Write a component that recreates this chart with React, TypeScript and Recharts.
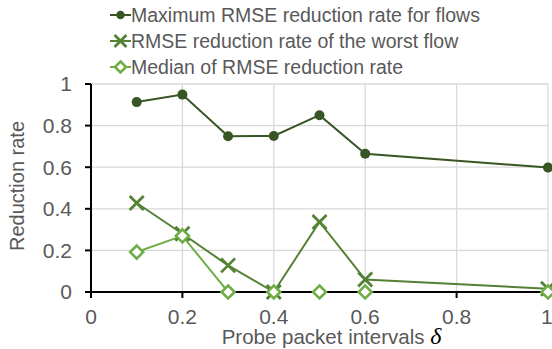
import React from 'react';
import { LineChart, Line, XAxis, YAxis, CartesianGrid, Legend, Label } from 'recharts';

const intervals = [0.1, 0.2, 0.3, 0.4, 0.5, 0.6, 1.0];
const maxReduction = [0.913, 0.949, 0.749, 0.75, 0.85, 0.665, 0.598];
const worstReduction = [0.428, 0.28, 0.128, 0, 0.337, 0.06, 0.016];
const medianReduction = [0.192, 0.27, 0, 0, 0, 0, 0];

const xTicks = [0, 0.2, 0.4, 0.6, 0.8, 1];
const yTicks = [0, 0.2, 0.4, 0.6, 0.8, 1];

const seriesNames = [
  'Maximum RMSE reduction rate for flows',
  'RMSE reduction rate of the worst flow',
  'Median of RMSE reduction rate',
];

const COLORS = ['#375623', '#548235', '#70ad47'];
const FONT = '"Liberation Sans", Arial, Helvetica, sans-serif';
const TEXT = '#595959';

const data = intervals.map((x, i) => ({
  x,
  max: maxReduction[i],
  worst: worstReduction[i],
  median: medianReduction[i],
}));

type Shape = 'circle' | 'cross' | 'diamond';

function Marker({ cx, cy, shape, color, size = 1 }: { cx: number; cy: number; shape: Shape; color: string; size?: number }) {
  if (shape === 'circle') {
    return <circle cx={cx} cy={cy} r={5 * size} fill={color} stroke="none" />;
  }
  if (shape === 'cross') {
    const h = 7 * size;
    return (
      <g stroke={color} strokeWidth={2.8}>
        <line x1={cx - h} y1={cy - h} x2={cx + h} y2={cy + h} />
        <line x1={cx - h} y1={cy + h} x2={cx + h} y2={cy - h} />
      </g>
    );
  }
  const h = 6.5 * size;
  return (
    <polygon
      points={`${cx},${cy - h} ${cx + h},${cy} ${cx},${cy + h} ${cx - h},${cy}`}
      fill="#fff"
      stroke={color}
      strokeWidth={2.6}
    />
  );
}

const shapes: Shape[] = ['circle', 'cross', 'diamond'];

function dotFor(shape: Shape, color: string) {
  return (props: any) => {
    const { cx, cy, index } = props;
    if (cx == null || cy == null) return <g key={index} />;
    return (
      <g key={index}>
        <Marker cx={cx} cy={cy} shape={shape} color={color} />
      </g>
    );
  };
}

function LegendBox() {
  return (
    <div style={{ fontFamily: FONT, fontSize: 19.5, color: TEXT }}>
      {seriesNames.map((name, i) => (
        <div key={name} style={{ display: 'flex', alignItems: 'center', height: 26, whiteSpace: 'nowrap' }}>
          <svg width={21} height={26} style={{ flex: 'none' }}>
            <line x1={0} y1={13} x2={21} y2={13} stroke={COLORS[i]} strokeWidth={2} />
            <Marker cx={10.5} cy={13} shape={shapes[i]} color={COLORS[i]} size={0.85} />
          </svg>
          <span style={{ lineHeight: '26px' }}>{name}</span>
        </div>
      ))}
    </div>
  );
}

function XTitle(props: any) {
  const { viewBox } = props;
  const cx = viewBox.x + viewBox.width / 2 + 12;
  return (
    <text x={cx} y={344} textAnchor="middle" fontFamily={FONT} fontSize={20.5} fill={TEXT}>
      Probe packet intervals{' '}
      <tspan fontFamily='"Liberation Serif", "DejaVu Serif", serif' fontStyle="italic" fontSize={24} fill="#000">
        δ
      </tspan>
    </text>
  );
}

export default function App() {
  return (
    <div style={{ position: 'absolute', left: 0, top: 0, width: 552, height: 349, background: '#fff' }}>
      <LineChart width={552} height={349} data={data} margin={{ top: 84, right: 4, left: 0, bottom: 0 }}>
        <CartesianGrid stroke="#d9d9d9" strokeWidth={1.3} horizontalValues={yTicks} verticalValues={xTicks} />
        <XAxis
          dataKey="x"
          type="number"
          domain={[0, 1]}
          ticks={xTicks}
          height={57}
          axisLine={{ stroke: '#000', strokeWidth: 2 }}
          tickLine={{ stroke: '#000', strokeWidth: 2 }}
          tickSize={6}
          tickMargin={11}
          tick={{ fontSize: 21, fill: TEXT, fontFamily: FONT }}
        >
          <Label content={<XTitle />} />
        </XAxis>
        <YAxis
          type="number"
          domain={[0, 1]}
          ticks={yTicks}
          width={91}
          axisLine={{ stroke: '#000', strokeWidth: 2 }}
          tickLine={{ stroke: '#000', strokeWidth: 2 }}
          tickSize={6}
          tickMargin={13}
          tick={{ fontSize: 21, fill: TEXT, fontFamily: FONT }}
        >
          <Label
            value="Reduction rate"
            angle={-90}
            position="insideLeft"
            offset={0}
            content={(p: any) => (
              <text
                x={24}
                y={p.viewBox.y + p.viewBox.height / 2 - 2}
                transform={`rotate(-90, 24, ${p.viewBox.y + p.viewBox.height / 2 - 2})`}
                textAnchor="middle"
                fontFamily={FONT}
                fontSize={20}
                fill={TEXT}
              >
                Reduction rate
              </text>
            )}
          />
        </YAxis>
        <Legend
          layout="vertical"
          verticalAlign="middle"
          align="center"
          content={<LegendBox />}
          wrapperStyle={{ left: 110, top: 2, width: 440, height: 80 }}
        />
        <Line
          dataKey="max"
          name={seriesNames[0]}
          stroke={COLORS[0]}
          strokeWidth={2}
          dot={dotFor('circle', COLORS[0])}
          activeDot={false}
          isAnimationActive={false}
        />
        <Line
          dataKey="worst"
          name={seriesNames[1]}
          stroke={COLORS[1]}
          strokeWidth={2}
          dot={dotFor('cross', COLORS[1])}
          activeDot={false}
          isAnimationActive={false}
        />
        <Line
          dataKey="median"
          name={seriesNames[2]}
          stroke={COLORS[2]}
          strokeWidth={2}
          dot={dotFor('diamond', COLORS[2])}
          activeDot={false}
          isAnimationActive={false}
        />
      </LineChart>
    </div>
  );
}
